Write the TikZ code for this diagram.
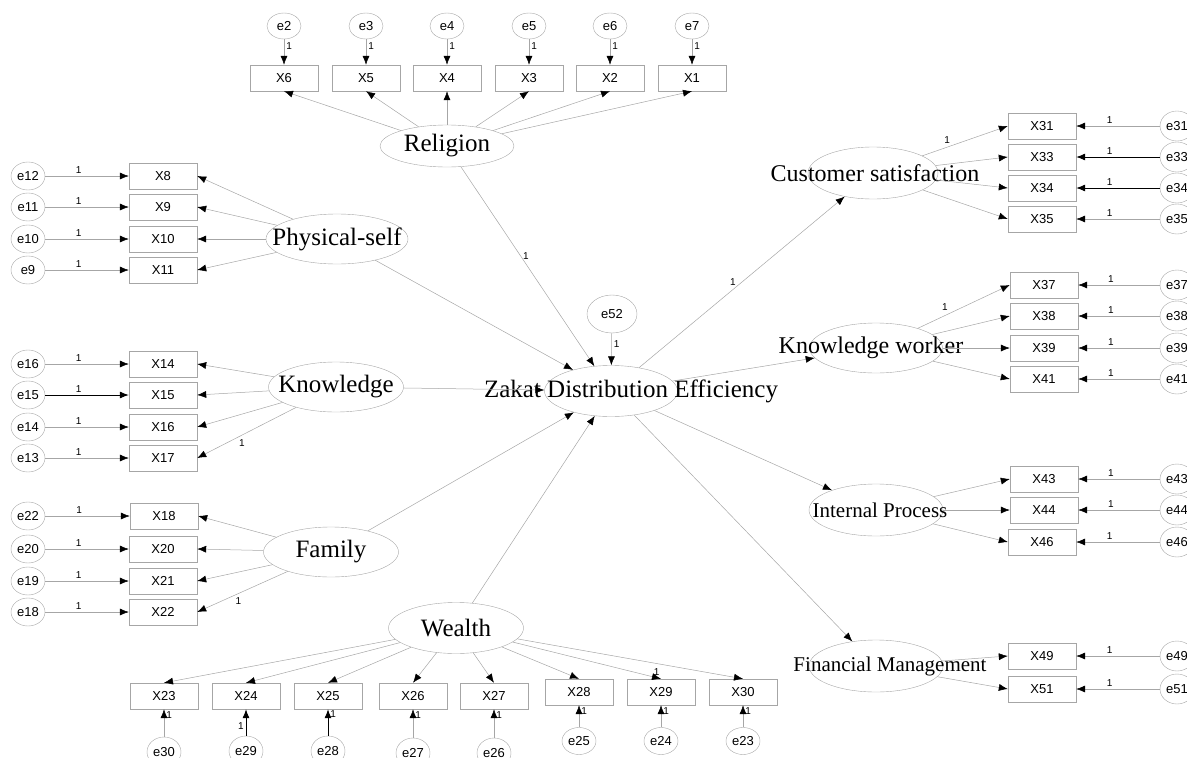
\documentclass[tikz,border=0pt]{standalone}
\usepackage{fontspec}
\setmainfont{Liberation Serif}
\setsansfont{Liberation Sans}
\usetikzlibrary{shapes,arrows.meta,positioning,shapes.geometric}

\begin{document}
\begin{tikzpicture}[x=1pt, y=-1pt,
    indicator/.style={rectangle, draw=gray!70, minimum width=68pt, minimum height=26pt, inner sep=0pt, font=\sffamily\fontsize{13}{13}\selectfont},
    err/.style={ellipse, draw=gray!70, minimum width=34pt, minimum height=28pt, inner sep=0pt, font=\sffamily\fontsize{13}{13}\selectfont},
    latent/.style={ellipse, draw=gray!70, minimum width=134pt, minimum height=50pt, inner sep=0pt, font=\fontsize{25}{25}\selectfont},
    arrow/.style={-{Latex[length=9pt, width=7pt, color=black]}, draw=gray!70, line width=0.5pt},
    darkarrow/.style={arrow, draw=black, line width=0.8pt},
    one/.style={font=\sffamily\fontsize{10}{10}\selectfont, inner sep=2pt}
]
\useasboundingbox (0,0) rectangle (1187,758);

% Central construct
\node[latent, minimum width=133pt, minimum height=51pt] (zde) at (611,391) {\makebox[0pt]{\hspace*{40pt}Zakat Distribution Efficiency}};
\node[err, minimum width=50pt, minimum height=38pt] (e52) at (612,314) {e52};

% Religion
\node[latent, minimum height=42pt] (religion) at (447,146) {\makebox[0pt]{Religion}};
\node[indicator] (x6) at (284,78) {X6};
\node[indicator] (x5) at (366,78) {X5};
\node[indicator] (x4) at (447,78) {X4};
\node[indicator] (x3) at (529,78) {X3};
\node[indicator] (x2) at (610,78) {X2};
\node[indicator] (x1) at (692,78) {X1};
\node[err, minimum height=26pt] (e2) at (284,26) {e2};
\node[err, minimum height=26pt] (e3) at (366,26) {e3};
\node[err, minimum height=26pt] (e4) at (447,26) {e4};
\node[err, minimum height=26pt] (e5) at (529,26) {e5};
\node[err, minimum height=26pt] (e6) at (610,26) {e6};
\node[err, minimum height=26pt] (e7) at (692,26) {e7};

% Physical-self
\node[latent, minimum width=142pt] (physical) at (337,239) {\makebox[0pt]{Physical-self}};
\node[indicator] (x8) at (163,176) {X8};
\node[indicator] (x9) at (163,207) {X9};
\node[indicator] (x10) at (163,239) {X10};
\node[indicator] (x11) at (163,270) {X11};
\node[err] (e12) at (28,176) {e12};
\node[err] (e11) at (28,207) {e11};
\node[err] (e10) at (28,239) {e10};
\node[err] (e9) at (28,270) {e9};

% Knowledge
\node[latent, minimum width=135pt] (knowledge) at (336,387) {\makebox[0pt]{Knowledge}};
\node[indicator] (x14) at (163,364) {X14};
\node[indicator] (x15) at (163,395) {X15};
\node[indicator] (x16) at (163,427) {X16};
\node[indicator] (x17) at (163,458) {X17};
\node[err] (e16) at (28,364) {e16};
\node[err] (e15) at (28,395) {e15};
\node[err] (e14) at (28,427) {e14};
\node[err] (e13) at (28,458) {e13};

% Family
\node[latent, minimum width=135pt] (family) at (331,552) {\makebox[0pt]{Family}};
\node[indicator] (x18) at (164,516) {X18};
\node[indicator] (x20) at (163,549) {X20};
\node[indicator] (x21) at (163,581) {X21};
\node[indicator] (x22) at (163,612) {X22};
\node[err] (e22) at (28,516) {e22};
\node[err] (e20) at (28,549) {e20};
\node[err] (e19) at (28,581) {e19};
\node[err] (e18) at (28,612) {e18};

% Wealth
\node[latent, minimum width=135pt, minimum height=51pt] (wealth) at (456,628) {\makebox[0pt]{Wealth}};
\node[indicator] (x23) at (164,696) {X23};
\node[indicator] (x24) at (246,696) {X24};
\node[indicator] (x25) at (328,696) {X25};
\node[indicator] (x26) at (413,696) {X26};
\node[indicator] (x27) at (494,696) {X27};
\node[indicator] (x28) at (579,692) {X28};
\node[indicator] (x29) at (661,692) {X29};
\node[indicator] (x30) at (743,692) {X30};
\node[err, minimum height=30pt] (e30) at (164,752) {e30};
\node[err, minimum height=30pt] (e29) at (246,751) {e29};
\node[err, minimum height=30pt] (e28) at (328,751) {e28};
\node[err, minimum height=30pt] (e27) at (413,753) {e27};
\node[err, minimum height=30pt] (e26) at (494,753) {e26};
\node[err, minimum height=27pt] (e25) at (579,741) {e25};
\node[err, minimum height=27pt] (e24) at (661,741) {e24};
\node[err, minimum height=27pt] (e23) at (743,741) {e23};

% Customer satisfaction
\node[latent, minimum width=130pt, minimum height=52pt, font=\fontsize{24}{24}\selectfont] (customer) at (873,173) {\makebox[0pt]{\hspace*{4pt}Customer satisfaction}};
\node[indicator] (x31) at (1042,126) {X31};
\node[indicator] (x33) at (1042,157) {X33};
\node[indicator] (x34) at (1042,188) {X34};
\node[indicator] (x35) at (1042,219) {X35};
\node[err, minimum height=30pt] (e31) at (1177,126) {e31};
\node[err, minimum height=30pt] (e33) at (1177,157) {e33};
\node[err, minimum height=30pt] (e34) at (1177,188) {e34};
\node[err, minimum height=30pt] (e35) at (1177,219) {e35};

% Knowledge worker
\node[latent, minimum width=133pt, font=\fontsize{24}{24}\selectfont] (kworker) at (876,348) {\makebox[0pt]{\hspace*{-10pt}Knowledge worker}};
\node[indicator] (x37) at (1044,285) {X37};
\node[indicator] (x38) at (1044,316) {X38};
\node[indicator] (x39) at (1044,348) {X39};
\node[indicator] (x41) at (1044,379) {X41};
\node[err, minimum height=30pt] (e37) at (1177,285) {e37};
\node[err, minimum height=30pt] (e38) at (1177,316) {e38};
\node[err, minimum height=30pt] (e39) at (1177,348) {e39};
\node[err, minimum height=30pt] (e41) at (1177,379) {e41};

% Internal Process
\node[latent, minimum height=52pt, font=\fontsize{21}{21}\selectfont] (internal) at (876,510) {\makebox[0pt]{\hspace*{8pt}Internal Process}};
\node[indicator] (x43) at (1044,479) {X43};
\node[indicator] (x44) at (1044,510) {X44};
\node[indicator] (x46) at (1042,542) {X46};
\node[err, minimum height=30pt] (e43) at (1177,479) {e43};
\node[err, minimum height=30pt] (e44) at (1177,510) {e44};
\node[err, minimum height=30pt] (e46) at (1177,542) {e46};

% Financial Management
\node[latent, minimum height=52pt, font=\fontsize{21}{21}\selectfont] (financial) at (876,666) {\makebox[0pt]{\hspace*{28pt}Financial Management}};
\node[indicator] (x49) at (1042,656) {X49};
\node[indicator] (x51) at (1042,689) {X51};
\node[err, minimum height=30pt] (e49) at (1177,656) {e49};
\node[err, minimum height=30pt] (e51) at (1177,689) {e51};

% Structural paths
\draw[arrow] (religion) -- node[one, pos=.45, right] {1} (zde);
\draw[arrow] (physical) -- (zde);
\draw[arrow] (knowledge) -- (zde);
\draw[arrow] (family) -- (zde);
\draw[arrow] (wealth) -- (zde);
\draw[arrow] (e52) -- node[one, pos=.35, right] {1} (zde);
\draw[arrow] (zde) -- node[one, pos=.5, left=4pt] {1} (customer);
\draw[arrow] (zde) -- (kworker);
\draw[arrow] (zde) -- (internal);
\draw[arrow] (zde) -- (financial);

% Religion loadings
\draw[arrow] (religion) -- (x6.south);
\draw[arrow] (religion) -- (x5.south);
\draw[arrow] (religion) -- (x4.south);
\draw[arrow] (religion) -- (x3.south);
\draw[arrow] (religion) -- (x2.south);
\draw[arrow] (religion) -- (x1.south);
\draw[arrow] (e2) -- node[one, pos=.25, right] {1} (x6);
\draw[arrow] (e3) -- node[one, pos=.25, right] {1} (x5);
\draw[arrow] (e4) -- node[one, pos=.25, right] {1} (x4);
\draw[arrow] (e5) -- node[one, pos=.25, right] {1} (x3);
\draw[arrow] (e6) -- node[one, pos=.25, right] {1} (x2);
\draw[arrow] (e7) -- node[one, pos=.25, right] {1} (x1);

% Physical-self loadings
\draw[arrow] (physical) -- (x8.east);
\draw[arrow] (physical) -- (x9.east);
\draw[arrow] (physical) -- (x10.east);
\draw[arrow] (physical) -- (x11.east);
\draw[arrow] (e12) -- node[one, pos=.4, above] {1} (x8);
\draw[arrow] (e11) -- node[one, pos=.4, above] {1} (x9);
\draw[arrow] (e10) -- node[one, pos=.4, above] {1} (x10);
\draw[arrow] (e9) -- node[one, pos=.4, above] {1} (x11);

% Knowledge loadings
\draw[arrow] (knowledge) -- (x14.east);
\draw[arrow] (knowledge) -- (x15.east);
\draw[arrow] (knowledge) -- (x16.east);
\draw[arrow] (knowledge) -- node[one, pos=.6, below right] {1} (x17.east);
\draw[arrow] (e16) -- node[one, pos=.4, above] {1} (x14);
\draw[darkarrow] (e15) -- node[one, pos=.4, above] {1} (x15);
\draw[arrow] (e14) -- node[one, pos=.4, above] {1} (x16);
\draw[arrow] (e13) -- node[one, pos=.4, above] {1} (x17);

% Family loadings
\draw[arrow] (family) -- (x18.east);
\draw[arrow] (family) -- (x20.east);
\draw[arrow] (family) -- (x21.east);
\draw[arrow] (family) -- node[one, pos=.6, below right] {1} (x22.east);
\draw[arrow] (e22) -- node[one, pos=.4, above] {1} (x18);
\draw[arrow] (e20) -- node[one, pos=.4, above] {1} (x20);
\draw[arrow] (e19) -- node[one, pos=.4, above] {1} (x21);
\draw[arrow] (e18) -- node[one, pos=.4, above] {1} (x22);

% Wealth loadings
\draw[arrow] (wealth) -- (x23.north);
\draw[arrow] (wealth) -- (x24.north);
\draw[arrow] (wealth) -- (x25.north);
\draw[arrow] (wealth) -- (x26.north);
\draw[arrow] (wealth) -- (x27.north);
\draw[arrow] (wealth) -- (x28.north);
\draw[arrow] (wealth) -- node[one, pos=.97, above] {1} (x29.north);
\draw[arrow] (wealth) -- (x30.north);
\draw[arrow] (e30) -- node[one, pos=.8, right] {1} (x23);
\draw[darkarrow] (e29) -- node[one, pos=.35, left] {1} (x24);
\draw[darkarrow] (e28) -- node[one, pos=.8, right] {1} (x25);
\draw[arrow] (e27) -- node[one, pos=.8, right] {1} (x26);
\draw[arrow] (e26) -- node[one, pos=.8, right] {1} (x27);
\draw[arrow] (e25) -- node[one, pos=.75, right] {1} (x28);
\draw[arrow] (e24) -- node[one, pos=.75, right] {1} (x29);
\draw[arrow] (e23) -- node[one, pos=.75, right] {1} (x30);

% Customer satisfaction loadings
\draw[arrow] (customer) -- node[one, pos=.35, above left] {1} (x31.west);
\draw[arrow] (customer) -- (x33.west);
\draw[arrow] (customer) -- (x34.west);
\draw[arrow] (customer) -- (x35.west);
\draw[arrow] (e31) -- node[one, pos=.6, above] {1} (x31);
\draw[darkarrow] (e33) -- node[one, pos=.6, above] {1} (x33);
\draw[darkarrow] (e34) -- node[one, pos=.6, above] {1} (x34);
\draw[arrow] (e35) -- node[one, pos=.6, above] {1} (x35);

% Knowledge worker loadings
\draw[arrow] (kworker) -- node[one, pos=.35, above left] {1} (x37.west);
\draw[arrow] (kworker) -- (x38.west);
\draw[arrow] (kworker) -- (x39.west);
\draw[arrow] (kworker) -- (x41.west);
\draw[arrow] (e37) -- node[one, pos=.6, above] {1} (x37);
\draw[arrow] (e38) -- node[one, pos=.6, above] {1} (x38);
\draw[arrow] (e39) -- node[one, pos=.6, above] {1} (x39);
\draw[arrow] (e41) -- node[one, pos=.6, above] {1} (x41);

% Internal Process loadings
\draw[arrow] (internal) -- (x43.west);
\draw[arrow] (internal) -- (x44.west);
\draw[arrow] (internal) -- (x46.west);
\draw[arrow] (e43) -- node[one, pos=.6, above] {1} (x43);
\draw[arrow] (e44) -- node[one, pos=.6, above] {1} (x44);
\draw[arrow] (e46) -- node[one, pos=.6, above] {1} (x46);

% Financial Management loadings
\draw[arrow] (financial) -- (x49.west);
\draw[arrow] (financial) -- (x51.west);
\draw[arrow] (e49) -- node[one, pos=.6, above] {1} (x49);
\draw[arrow] (e51) -- node[one, pos=.6, above] {1} (x51);

\end{tikzpicture}
\end{document}
